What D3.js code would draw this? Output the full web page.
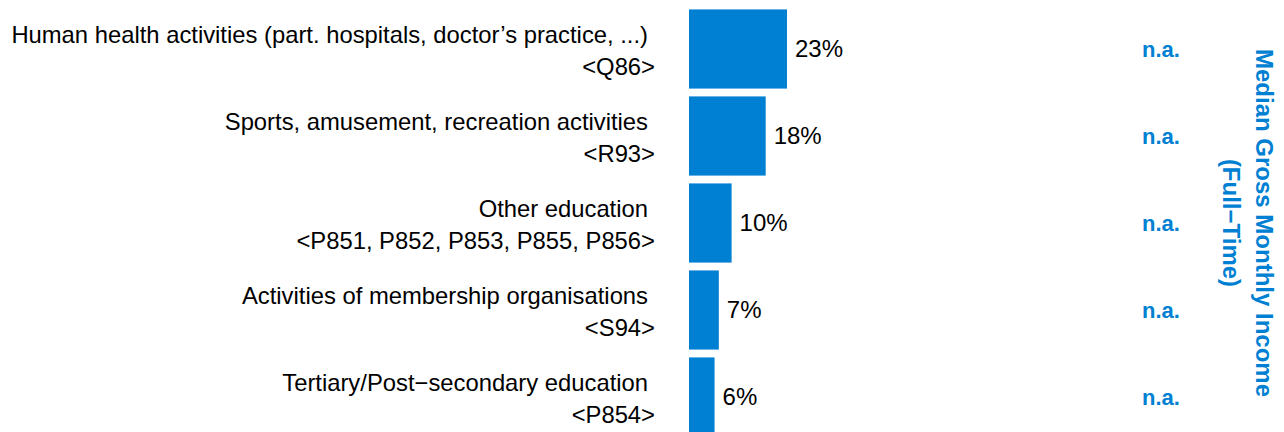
<!DOCTYPE html>
<html>
<head>
<meta charset="utf-8">
<script src="https://cdn.jsdelivr.net/npm/d3@7"></script>
<style>
  body { margin: 0; background: #fff; overflow: hidden; }
  text { font-family: "Liberation Sans", Arial, sans-serif; }
</style>
</head>
<body>
<script>
// industries, their codes and share of employees
var categories = [
  "Human health activities (part. hospitals, doctor\u2019s practice, ...)",
  "Sports, amusement, recreation activities",
  "Other education",
  "Activities of membership organisations",
  "Tertiary/Post\u2212secondary education"
];
var codes = ["<Q86>", "<R93>", "<P851, P852, P853, P855, P856>", "<S94>", "<P854>"];
var shares = [23, 18, 10, 7, 6];
var income = ["n.a.", "n.a.", "n.a.", "n.a.", "n.a."];
var incomeTitle = ["Median Gross Monthly Income", "(Full\u2212Time)"];

var w = 1284, h = 432;
var blue = "#0080d2";

var svg = d3.select("body")
            .append("svg")
            .attr("width", w)
            .attr("height", h);

var yScale = d3.scaleBand()
               .domain(categories)
               .range([5.5, 440.5])
               .paddingInner(0.09)
               .paddingOuter(0.045);

var xScale = d3.scaleLinear()
               .domain([0, 100])
               .range([689, 689 + 426]);

// bars
svg.selectAll("rect.bar")
   .data(categories)
   .enter()
   .append("rect")
   .attr("class", "bar")
   .attr("x", xScale(0))
   .attr("y", function(d) { return yScale(d); })
   .attr("width", function(d, i) { return xScale(shares[i]) - xScale(0); })
   .attr("height", yScale.bandwidth())
   .attr("fill", blue);

// percentage labels
svg.selectAll("text.val")
   .data(categories)
   .enter()
   .append("text")
   .attr("class", "val")
   .attr("x", function(d, i) { return xScale(shares[i]) + 8; })
   .attr("y", function(d) { return yScale(d) + yScale.bandwidth() / 2 + 8; })
   .style("font-size", "24px")
   .attr("fill", "#000")
   .text(function(d, i) { return shares[i] + "%"; });

// category labels, two lines each
svg.selectAll("text.cat")
   .data(categories)
   .enter()
   .append("text")
   .attr("class", "cat")
   .attr("x", 648)
   .attr("y", function(d) { return yScale(d) + yScale.bandwidth() / 2 - 6.5; })
   .attr("text-anchor", "end")
   .style("font-size", "23.8px")
   .attr("fill", "#000")
   .text(function(d) { return d; });

svg.selectAll("text.code")
   .data(categories)
   .enter()
   .append("text")
   .attr("class", "code")
   .attr("x", 655)
   .attr("y", function(d) { return yScale(d) + yScale.bandwidth() / 2 + 25.5; })
   .attr("text-anchor", "end")
   .style("font-size", "23.8px")
   .attr("fill", "#000")
   .text(function(d, i) { return codes[i]; });

// income column
svg.selectAll("text.inc")
   .data(categories)
   .enter()
   .append("text")
   .attr("class", "inc")
   .attr("x", 1161)
   .attr("y", function(d) { return yScale(d) + yScale.bandwidth() / 2 + 7.5; })
   .attr("text-anchor", "middle")
   .style("font-size", "22px")
   .style("font-weight", "bold")
   .attr("fill", blue)
   .text(function(d, i) { return income[i]; });

// rotated title on the right
svg.selectAll("text.title")
   .data(incomeTitle)
   .enter()
   .append("text")
   .attr("class", "title")
   .attr("transform", function(d, i) { return "translate(" + (1256 - i * 33) + ",223) rotate(90)"; })
   .attr("text-anchor", "middle")
   .style("font-size", "24px")
   .style("font-weight", "bold")
   .attr("fill", blue)
   .text(function(d) { return d; });
</script>
</body>
</html>
